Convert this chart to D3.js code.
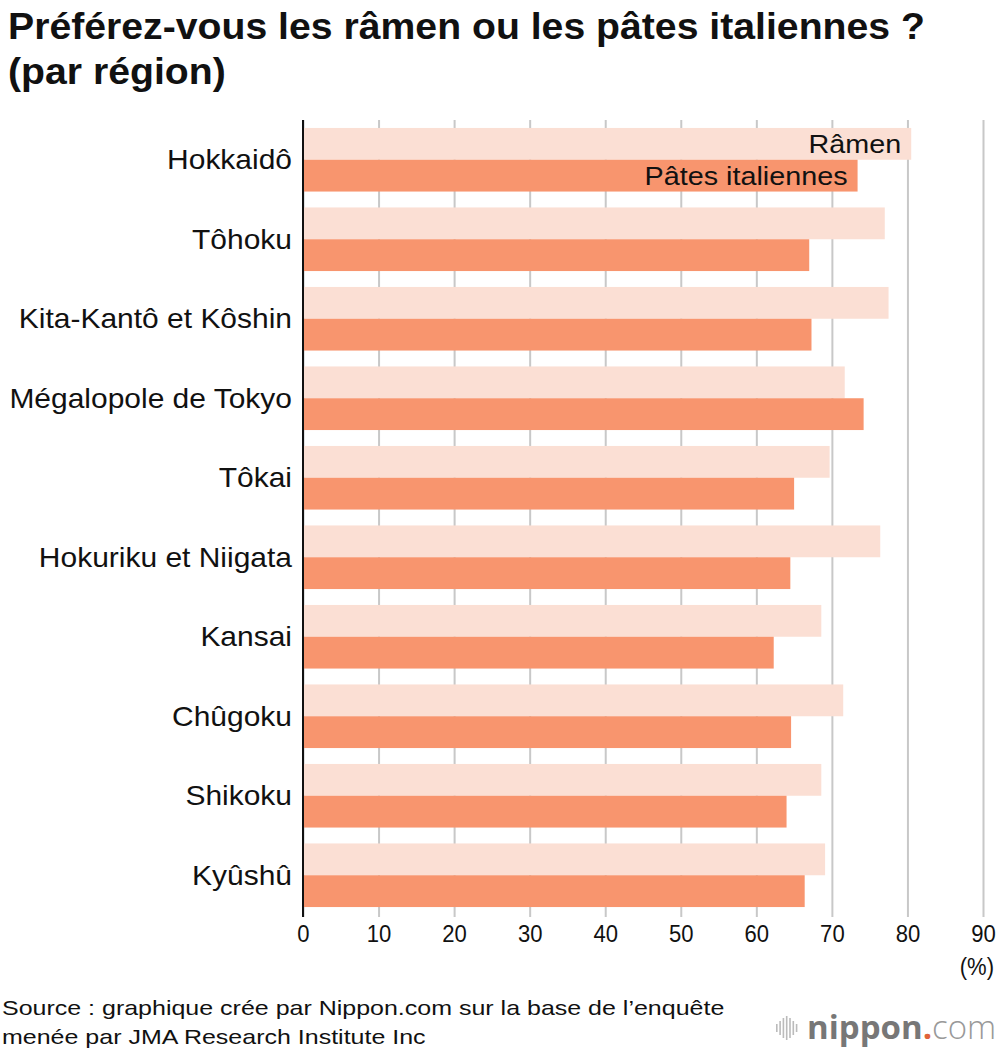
<!DOCTYPE html>
<html><head><meta charset="utf-8">
<script src="https://cdn.jsdelivr.net/npm/d3@7"></script>
<style>
body{margin:0;background:#fff;}
svg{display:block;font-family:"Liberation Sans",Arial,Helvetica,sans-serif;}
</style></head>
<body>
<script>
const regions = ["Hokkaidô","Tôhoku","Kita-Kantô et Kôshin","Mégalopole de Tokyo","Tôkai","Hokuriku et Niigata","Kansai","Chûgoku","Shikoku","Kyûshû"];
const ramen = [80.5,77.0,77.5,71.7,69.7,76.4,68.6,71.5,68.6,69.1];
const pates = [73.4,67.0,67.3,74.2,65.0,64.5,62.3,64.6,64.0,66.4];
const seriesNames = ["Râmen","Pâtes italiennes"];
const ticks = [0,10,20,30,40,50,60,70,80,90];
const titleLines = ["Préférez-vous les râmen ou les pâtes italiennes ?","(par région)"];
const sourceLines = ["Source : graphique crée par Nippon.com sur la base de l’enquête","menée par JMA Research Institute Inc"];

const W=1000,H=1056;
const svg=d3.select("body").append("svg").attr("width",W).attr("height",H);
const colLight="#fbdfd4", colDark="#f8956e";

function addText(parent,x,y,str,o){
  o=o||{};
  const t=parent.append("text")
    .attr("transform",`translate(${x},${y}) scale(${o.sx||1},1)`)
    .attr("font-size",o.size||20).attr("fill",o.fill||"#111")
    .attr("text-anchor",o.anchor||"start").text(str);
  if(o.weight) t.attr("font-weight",o.weight);
  if(o.dy) t.attr("dy",o.dy);
  return t;
}

// title (condensed bold)
const tg=svg.append("g");
const probe=tg.append("text").attr("font-size",37).attr("font-weight","bold").text(titleLines[0]);
const tsx=917/probe.node().getComputedTextLength();
probe.remove();
titleLines.forEach((t,i)=>addText(tg,8,39+i*45,t,{size:37,weight:"bold",sx:tsx}));

const x=d3.scaleLinear().domain([0,90]).range([303,983]);
const y0=d3.scaleBand().domain(regions).range([120,915]).paddingInner(0.2).paddingOuter(0.1);
const y1=d3.scaleBand().domain([0,1]).range([0,y0.bandwidth()]);

// gridlines + tick labels
const axisY=917;
const ax=svg.append("g").attr("transform",`translate(0,${axisY})`)
  .call(d3.axisBottom(x).tickValues(ticks).tickSize(-(axisY-120)).tickSizeOuter(0).tickPadding(8).tickFormat(d3.format("d")));
ax.select(".domain").remove();
ax.selectAll(".tick line").attr("stroke","#c8c8c8").attr("stroke-width",2);
ax.selectAll(".tick text").attr("font-size",24).attr("fill","#111").attr("font-family","inherit")
  .attr("transform","scale(0.92,1)");
addText(svg,994,975,"(%)",{size:24,anchor:"end",sx:0.92});

// bars
const g=svg.append("g");
regions.forEach((r,i)=>{
  [ramen[i],pates[i]].forEach((v,j)=>{
    g.append("rect").attr("x",x(0)).attr("y",y0(r)+y1(j)).attr("width",x(v)-x(0)).attr("height",y1.bandwidth())
      .attr("fill",j===0?colLight:colDark);
  });
});
seriesNames.forEach((s,j)=>{
  const v=j===0?ramen[0]:pates[0];
  addText(g,x(v)-10,y0(regions[0])+y1(j)+y1.bandwidth()/2,s,{size:25,anchor:"end",dy:"0.37em",sx:1.15});
});

svg.append("line").attr("x1",x(0)).attr("x2",x(0)).attr("y1",120).attr("y2",axisY).attr("stroke","#111").attr("stroke-width",2);

const cg=svg.append("g");
regions.forEach(r=>addText(cg,292,y0(r)+y0.bandwidth()/2,r,{size:27,anchor:"end",dy:"0.36em",sx:1.11}));

sourceLines.forEach((t,i)=>addText(svg,2,1015+i*29,t,{size:21,sx:1.19}));

// logo
const lg=svg.append("g").attr("transform","translate(776,1028)");
const bh=[8,14,20,24,20,14,8];
bh.forEach((h,i)=>{
  lg.append("rect").attr("x",i*3.3).attr("y",-h/2).attr("width",1.6).attr("height",h).attr("fill","#bbb");
});
const lt=svg.append("text").attr("x",807).attr("y",1039).attr("font-family","'Open Sans','DejaVu Sans',sans-serif").attr("font-size",33);
lt.append("tspan").attr("font-weight","bold").attr("fill","#777").text("nippon");
lt.append("tspan").attr("fill","#e0643a").attr("font-weight","bold").text(".");
lt.append("tspan").attr("fill","#999").attr("font-weight","300").text("com");
</script>
</body></html>
